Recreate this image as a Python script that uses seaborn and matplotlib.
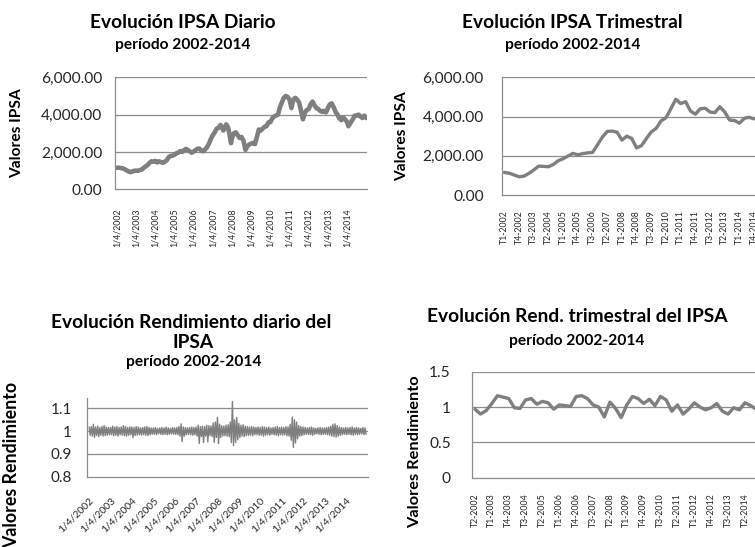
import matplotlib
matplotlib.use("Agg")
import matplotlib.pyplot as plt
import matplotlib.ticker as mticker
import seaborn as sns
import pandas as pd
import numpy as np

# ---------------- data ----------------
year_ticks = list(range(2002, 2015))
date_labels = [f"1/4/{y}" for y in year_ticks]

# Daily IPSA (sampled readings: decimal year, index value)
ipsa_d_year = [2002.00, 2002.10, 2002.20, 2002.30, 2002.40, 2002.50, 2002.60, 2002.70, 2002.80, 2002.90,
               2003.00, 2003.10, 2003.20, 2003.30, 2003.40, 2003.50, 2003.60, 2003.70, 2003.80, 2003.90,
               2004.00, 2004.10, 2004.20, 2004.30, 2004.40, 2004.50, 2004.60, 2004.70, 2004.80, 2004.90,
               2005.00, 2005.10, 2005.20, 2005.30, 2005.40, 2005.50, 2005.60, 2005.70, 2005.80, 2005.90,
               2006.00, 2006.10, 2006.20, 2006.30, 2006.40, 2006.50, 2006.60, 2006.70, 2006.80, 2006.90,
               2007.00, 2007.10, 2007.20, 2007.30, 2007.40, 2007.50, 2007.55, 2007.60, 2007.70, 2007.80,
               2007.88, 2007.95, 2008.00, 2008.10, 2008.20, 2008.30, 2008.40, 2008.50, 2008.60, 2008.70,
               2008.80, 2008.90, 2009.00, 2009.10, 2009.20, 2009.30, 2009.40, 2009.50, 2009.60, 2009.70,
               2009.80, 2009.90, 2010.00, 2010.10, 2010.20, 2010.30, 2010.40, 2010.50, 2010.60, 2010.70,
               2010.80, 2010.90, 2011.00, 2011.10, 2011.20, 2011.30, 2011.40, 2011.50, 2011.60, 2011.70,
               2011.80, 2011.90, 2012.00, 2012.10, 2012.20, 2012.30, 2012.40, 2012.50, 2012.60, 2012.70,
               2012.80, 2012.90, 2013.00, 2013.10, 2013.20, 2013.30, 2013.40, 2013.50, 2013.60, 2013.70,
               2013.80, 2013.90, 2014.00, 2014.07, 2014.20, 2014.30, 2014.40, 2014.50, 2014.60, 2014.70,
               2014.80, 2014.90, 2015.00]
ipsa_d_val = [1150, 1160, 1140, 1120, 1080, 1020, 960, 920, 950, 990,
              1000, 990, 1030, 1060, 1150, 1230, 1300, 1420, 1500, 1480,
              1520, 1440, 1500, 1460, 1420, 1480, 1560, 1720, 1790, 1800,
              1850, 1930, 1960, 2050, 2000, 2100, 2160, 2100, 2030, 1960,
              2020, 2100, 2170, 2180, 2060, 2040, 2130, 2260, 2450, 2700,
              2900, 3050, 3250, 3300, 3450, 3250, 3150, 3250, 3480, 3300,
              2900, 2470, 2750, 3000, 3050, 2900, 2750, 2800, 2600, 2110,
              2300, 2400, 2450, 2480, 2420, 2800, 3200, 3150, 3250, 3350,
              3380, 3580, 3600, 3800, 3900, 3950, 4000, 4400, 4650, 4900,
              5000, 4950, 4800, 4350, 4800, 4900, 4800, 4650, 4200, 3750,
              4100, 4250, 4300, 4550, 4700, 4500, 4350, 4300, 4200, 4150,
              4200, 4120, 4350, 4550, 4600, 4400, 4150, 4000, 3800, 3700,
              3850, 3750, 3600, 3380, 3600, 3750, 3950, 3950, 4000, 3900,
              3820, 3950, 3820]

# Quarterly IPSA T1-2002 .. T4-2014
quarters = [f"T{q}-{y}" for y in range(2002, 2015) for q in range(1, 5)]
ipsa_q = [1150, 1110, 1020, 930, 960, 1100, 1280, 1470, 1460, 1440,
          1560, 1750, 1850, 1990, 2120, 2050, 2110, 2150, 2170, 2550,
          2950, 3240, 3260, 3200, 2800, 3000, 2880, 2400, 2520, 2880,
          3220, 3400, 3780, 3940, 4400, 4880, 4660, 4760, 4280, 4120,
          4400, 4420, 4230, 4200, 4500, 4230, 3820, 3800, 3660, 3910,
          3960, 3880]

# Daily return envelope, one pair (high, low) per tenth of a year 2002.0 .. 2014.9
ret_d_year = [round(2002 + i / 10, 1) for i in range(130)]
ret_d_hi = [1.018, 1.020, 1.030, 1.018, 1.022, 1.016, 1.020, 1.024, 1.018, 1.016,
            1.016, 1.022, 1.018, 1.020, 1.016, 1.018, 1.024, 1.020, 1.016, 1.018,
            1.018, 1.016, 1.020, 1.018, 1.014, 1.016, 1.018, 1.020, 1.016, 1.014,
            1.014, 1.016, 1.012, 1.014, 1.016, 1.014, 1.018, 1.014, 1.012, 1.016,
            1.014, 1.016, 1.020, 1.032, 1.018, 1.016, 1.014, 1.016, 1.018, 1.016,
            1.018, 1.026, 1.020, 1.022, 1.020, 1.026, 1.024, 1.022, 1.036, 1.040,
            1.060, 1.030, 1.024, 1.022, 1.026, 1.028, 1.040, 1.130, 1.050, 1.060,
            1.034, 1.026, 1.028, 1.022, 1.020, 1.018, 1.020, 1.018, 1.016, 1.018,
            1.016, 1.020, 1.018, 1.016, 1.018, 1.014, 1.016, 1.018, 1.020, 1.016,
            1.018, 1.016, 1.020, 1.018, 1.030, 1.062, 1.050, 1.040, 1.024, 1.020,
            1.018, 1.016, 1.014, 1.016, 1.018, 1.014, 1.012, 1.014, 1.016, 1.014,
            1.014, 1.016, 1.018, 1.022, 1.030, 1.032, 1.024, 1.018, 1.016, 1.014,
            1.016, 1.014, 1.016, 1.018, 1.014, 1.016, 1.014, 1.012, 1.016, 1.014]
ret_d_lo = [0.982, 0.978, 0.972, 0.980, 0.976, 0.982, 0.978, 0.980, 0.982, 0.984,
            0.984, 0.980, 0.982, 0.978, 0.984, 0.982, 0.980, 0.978, 0.982, 0.984,
            0.972, 0.980, 0.982, 0.984, 0.982, 0.984, 0.982, 0.980, 0.984, 0.986,
            0.986, 0.984, 0.988, 0.986, 0.984, 0.986, 0.984, 0.986, 0.988, 0.986,
            0.986, 0.984, 0.978, 0.954, 0.978, 0.984, 0.986, 0.984, 0.982, 0.984,
            0.978, 0.946, 0.976, 0.950, 0.978, 0.952, 0.980, 0.976, 0.950, 0.972,
            0.946, 0.972, 0.978, 0.980, 0.978, 0.976, 0.950, 0.936, 0.950, 0.962,
            0.972, 0.978, 0.976, 0.980, 0.982, 0.982, 0.980, 0.984, 0.984, 0.982,
            0.982, 0.978, 0.982, 0.984, 0.982, 0.986, 0.984, 0.982, 0.980, 0.984,
            0.982, 0.984, 0.980, 0.978, 0.960, 0.928, 0.948, 0.966, 0.978, 0.980,
            0.984, 0.986, 0.986, 0.984, 0.982, 0.986, 0.988, 0.986, 0.984, 0.986,
            0.986, 0.984, 0.982, 0.978, 0.976, 0.974, 0.978, 0.982, 0.984, 0.986,
            0.984, 0.986, 0.984, 0.982, 0.986, 0.984, 0.986, 0.988, 0.984, 0.986]

# Quarterly return T2-2002 .. T4-2014
ret_q = [0.97, 0.90, 0.95, 1.05, 1.16, 1.14, 1.12, 0.99, 0.98, 1.10,
         1.12, 1.04, 1.08, 1.06, 0.97, 1.03, 1.02, 1.01, 1.15, 1.16,
         1.12, 1.03, 1.00, 0.86, 1.07, 0.98, 0.85, 1.03, 1.15, 1.12,
         1.05, 1.11, 1.02, 1.15, 1.10, 0.94, 1.03, 0.90, 0.97, 1.06,
         1.00, 0.96, 0.99, 1.05, 0.94, 0.90, 0.99, 0.96, 1.06, 1.02,
         0.97]
quarters_r = quarters[1:]

# ---------------- style ----------------
sns.set_theme(style="white")
plt.rcParams['font.family'] = ['Lato', 'DejaVu Sans']
LINE = '#7f7f7f'
GRID = '#8c8c8c'
TXT = '#000000'

W, H = 755, 547
fig = plt.figure(figsize=(W / 100, H / 100), dpi=100)


def add_ax(left, right, top, bottom):
    return fig.add_axes([left / W, 1 - bottom / H, (right - left) / W, (bottom - top) / H])


def style_ax(ax, grid_vals):
    for s in ['top', 'right']:
        ax.spines[s].set_visible(False)
    for s in ['left', 'bottom']:
        ax.spines[s].set_color(GRID)
        ax.spines[s].set_linewidth(0.9)
    for g in grid_vals:
        ax.axhline(g, color=GRID, lw=0.9, zorder=0)
    ax.set_xlabel('')
    ax.set_ylabel('')
    ax.patch.set_alpha(0)


def ftext(x, y, s, size, weight='bold', rot=0):
    fig.text(x / W, 1 - y / H, s, fontsize=size, fontweight=weight, rotation=rot,
             ha='center', va='center', color=TXT)


TITLE = 13.8
SUB = 11.2
YLAB = 11.2

# ---- top-left: daily IPSA ----
ax1 = add_ax(115, 367, 77.3, 189.3)
sns.lineplot(x=ipsa_d_year, y=ipsa_d_val, ax=ax1, color=LINE, linewidth=3.3,
             estimator=None, sort=False)
ax1.set_xlim(2001.9, 2015.04)
ax1.set_ylim(0, 6000)
style_ax(ax1, [2000, 4000, 6000])
ax1.set_yticks([0, 2000, 4000, 6000])
ax1.yaxis.set_major_formatter(mticker.FuncFormatter(lambda v, p: f"{v:,.2f}"))
ax1.set_xticks(year_ticks)
ax1.set_xticklabels(date_labels, rotation=90, va='top', ha='center')
ax1.tick_params(axis='y', labelsize=11.2, pad=9, length=0)
ax1.tick_params(axis='x', labelsize=6.3, pad=14, length=0)
ftext(183, 22, "Evolución IPSA Diario", TITLE)
ftext(183, 45, "período 2002-2014", SUB)
ftext(17, 133, "Valores IPSA", YLAB, rot=90)

# ---- top-right: quarterly IPSA ----
ax2 = add_ax(501.7, 756.6, 77.3, 195)
sns.lineplot(x=list(range(len(ipsa_q))), y=ipsa_q, ax=ax2, color=LINE, linewidth=2.4,
             estimator=None, sort=False)
ax2.set_xlim(-0.55, 51.5)
ax2.set_ylim(0, 6000)
style_ax(ax2, [2000, 4000, 6000])
ax2.set_yticks([0, 2000, 4000, 6000])
ax2.yaxis.set_major_formatter(mticker.FuncFormatter(lambda v, p: f"{v:,.2f}"))
ax2.set_xticks(list(range(0, len(quarters), 3)))
ax2.set_xticklabels(quarters[::3], rotation=90, va='top', ha='center')
ax2.tick_params(axis='y', labelsize=11.2, pad=13, length=0)
ax2.tick_params(axis='x', labelsize=6.3, pad=11, length=0)
ftext(572.5, 22, "Evolución IPSA Trimestral", TITLE)
ftext(572.5, 45, "período 2002-2014", SUB)
ftext(402.5, 136, "Valores IPSA", YLAB, rot=90)

# ---- bottom-left: daily return ----
ax3 = add_ax(87, 368, 398.3, 476.7)
xr, yr = [], []
for yv, hi, lo in zip(ret_d_year, ret_d_hi, ret_d_lo):
    xr += [yv, yv + 0.05]
    yr += [hi, lo]
df3 = pd.DataFrame({'x': xr, 'y': yr})
sns.lineplot(data=df3, x='x', y='y', ax=ax3, color=LINE, linewidth=1.0,
             estimator=None, sort=False)
ax3.set_xlim(2001.9, 2015.04)
ax3.set_ylim(0.8, 1.144)
style_ax(ax3, [0.9, 1.0, 1.1])
ax3.set_yticks([0.8, 0.9, 1.0, 1.1])
ax3.yaxis.set_major_formatter(mticker.FuncFormatter(lambda v, p: f"{v:g}"))
ax3.set_xticks(year_ticks)
ax3.set_xticklabels(date_labels, rotation=45, ha='right', rotation_mode='anchor')
ax3.tick_params(axis='y', labelsize=11, pad=11, length=0)
ax3.tick_params(axis='x', labelsize=7.5, pad=14, length=0)
ftext(191, 322, "Evolución Rendimiento diario del", TITLE)
ftext(193, 342, "IPSA", TITLE)
ftext(194, 362, "período 2002-2014", SUB)
ftext(12, 465, "Valores Rendimiento", 12.8, rot=90)

# ---- bottom-right: quarterly return ----
ax4 = add_ax(471.7, 759, 371.7, 477.7)
sns.lineplot(x=list(range(len(ret_q))), y=ret_q, ax=ax4, color=LINE, linewidth=2.4,
             estimator=None, sort=False)
ax4.set_xlim(-0.58, 50.5)
ax4.set_ylim(0, 1.5)
style_ax(ax4, [0.5, 1.0, 1.5])
ax4.set_yticks([0, 0.5, 1.0, 1.5])
ax4.yaxis.set_major_formatter(mticker.FuncFormatter(lambda v, p: f"{v:g}"))
ax4.set_xticks(list(range(0, len(quarters_r), 3)))
ax4.set_xticklabels(quarters_r[::3], rotation=90, va='top', ha='center')
ax4.tick_params(axis='y', labelsize=11.2, pad=15, length=0)
ax4.tick_params(axis='x', labelsize=6.3, pad=11, length=0)
ftext(577.5, 317, "Evolución Rend. trimestral del IPSA", TITLE)
ftext(577, 341, "período 2002-2014", SUB)
ftext(415, 452, "Valores Rendimiento", 11.8, rot=90)

fig.savefig("out.png", dpi=100)
